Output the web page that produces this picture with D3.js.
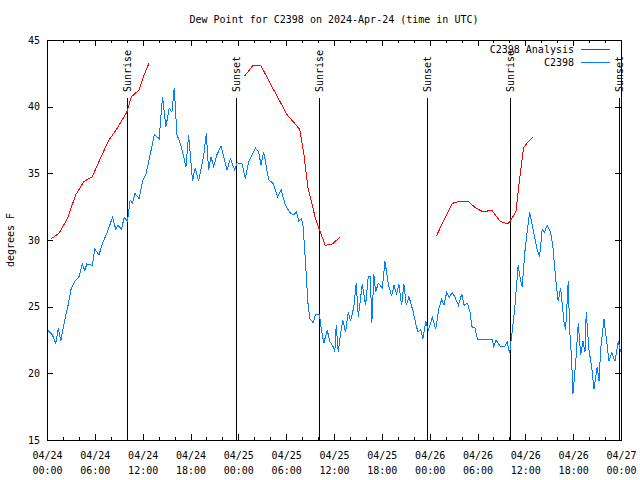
<!DOCTYPE html>
<html><head><meta charset="utf-8">
<script src="https://cdn.jsdelivr.net/npm/d3@7"></script>
<style>
body{margin:0;background:#fff}
text{font-family:"DejaVu Sans Mono",monospace;font-size:10px;fill:#000}
</style>
</head><body>
<svg id="c" width="640" height="480"></svg>
<script>
const titleText = "Dew Point for C2398 on 2024-Apr-24 (time in UTC)";
const yLabel = "degrees F";
const startTime = "2024-04-24T00:00:00Z";
const seriesNames = ["C2398 Analysis", "C2398"];
const seriesColors = ["#ff0000", "#0080ff"];

// observations: hours since start, dew point (F)
const obsHours = [0.13,0.67,1.09,1.42,1.72,2.22,2.64,3.05,3.48,4.02,4.44,4.74,4.99,5.69,5.99,6.53,6.95,7.58,8.21,8.63,8.92,9.34,9.68,10.09,10.43,10.72,11.02,11.56,11.98,12.40,12.94,13.45,14.07,14.49,14.92,15.33,15.67,15.96,16.30,16.80,17.43,17.76,18.26,18.47,18.60,19.01,19.64,19.98,20.27,20.57,20.90,21.32,21.83,22.15,22.58,23.00,23.54,23.84,24.47,24.88,25.30,26.14,26.55,26.85,27.18,27.81,28.36,28.65,28.94,29.37,29.91,30.54,30.95,31.29,31.58,31.92,32.13,32.42,32.71,32.96,33.39,33.68,34.18,34.39,34.72,35.15,35.47,35.90,36.10,36.28,36.53,36.82,37.11,37.45,37.79,38.08,38.49,38.79,39.05,39.55,39.96,40.30,40.55,40.75,41.00,41.22,41.56,42.06,42.39,42.81,43.23,43.52,43.86,44.14,44.48,44.77,45.07,45.40,45.90,46.24,46.53,46.87,47.16,47.50,47.84,48.34,48.76,49.17,49.51,49.80,50.14,50.43,50.85,51.18,51.61,52.02,52.31,52.74,53.06,53.28,53.69,53.99,55.04,55.83,56.04,56.33,56.89,57.43,57.72,58.02,58.35,58.69,59.10,59.40,59.60,59.94,60.23,60.53,60.86,61.20,61.49,61.79,62.11,62.42,62.74,63.17,63.46,63.80,64.12,64.43,64.84,65.05,65.38,65.56,65.81,65.97,66.31,66.64,66.94,67.23,67.48,67.64,67.98,68.32,68.61,69.02,69.24,69.45,69.87,70.16,70.50,70.84,71.25,71.66,71.96];
const obsDewF = [23.2,22.9,22.25,23.4,22.4,24.0,25.1,26.4,26.9,27.25,28.2,27.7,28.2,28.1,29.3,28.9,29.75,30.6,31.7,30.8,31.1,30.8,31.7,31.4,33.0,32.75,33.5,33.1,34.4,34.9,36.4,37.9,37.6,40.75,38.5,39.9,39.6,41.4,37.9,37.1,35.5,37.9,34.4,35.1,35.4,34.4,36.25,38.0,35.25,36.25,35.5,36.4,37.05,36.25,35.25,36.1,35.25,35.8,35.7,34.6,35.9,36.9,36.6,35.6,36.6,34.5,34.25,33.75,33.25,33.75,32.6,32.0,31.9,32.1,31.4,31.6,31.0,28.4,25.4,24.1,23.8,24.4,24.4,23.4,22.25,23.25,22.4,22.0,21.6,23.6,21.6,23.0,24.0,23.1,24.6,23.9,25.0,26.75,24.25,26.7,25.1,27.25,27.25,23.8,27.45,26.1,26.75,26.4,28.4,26.7,25.8,26.6,25.95,26.7,25.1,26.7,25.1,25.75,24.7,23.75,23.1,23.25,22.6,23.9,23.25,24.2,23.3,24.9,25.55,25.1,26.1,25.7,26.05,25.7,25.1,25.95,25.1,25.25,24.6,23.5,23.4,22.55,22.55,22.55,22.0,22.5,22.0,22.0,22.4,21.5,23.1,25.0,28.1,27.0,26.5,29.1,30.6,32.1,31.1,30.1,29.25,28.75,30.8,30.6,31.1,30.6,29.5,27.1,25.4,26.4,23.9,23.25,26.9,23.25,21.0,18.45,20.75,23.75,21.4,22.4,21.6,24.6,21.75,20.5,18.8,20.5,19.4,21.8,24.05,22.6,20.9,21.55,20.9,22.4,21.6];

// analysis: hours since start, dew point (F); null = gap
const anaHours = [0.54,1.51,2.55,3.61,4.65,5.69,6.53,7.67,8.83,10.02,10.59,11.56,12.19,12.78,null,24.79,25.85,26.85,28.44,30.12,31.70,32.21,32.71,33.68,34.22,34.90,35.78,36.73,null,48.84,49.80,50.85,51.68,52.82,53.78,54.75,55.79,56.84,57.84,58.81,59.22,59.77,60.19,60.90];
const anaDewF = [30.1,30.5,31.6,33.4,34.4,34.75,35.9,37.4,38.4,39.6,40.75,41.25,42.4,43.25,null,42.3,43.1,43.05,41.25,39.4,38.3,36.5,34.0,31.6,30.7,29.6,29.7,30.2,null,30.3,31.5,32.75,32.9,32.9,32.4,32.1,32.25,31.4,31.2,32.1,34.25,36.9,37.25,37.7];

const sunHours = [10.07, 23.67, 34.16, 47.67, 58.12, 71.79];
const sunLabels = ["Sunrise","Sunset","Sunrise","Sunset","Sunrise","Sunset"];

const yTicks = [15,20,25,30,35,40,45];
const xMajorHours = [0,6,12,18,24,30,36,42,48,54,60,66,72];
const xTickLabels = ["04/24\n00:00","04/24\n06:00","04/24\n12:00","04/24\n18:00","04/25\n00:00","04/25\n06:00","04/25\n12:00","04/25\n18:00","04/26\n00:00","04/26\n06:00","04/26\n12:00","04/26\n18:00","04/27\n00:00"];

const svg = d3.select("#c");
const t0 = new Date(startTime).getTime();
const hr = h => new Date(t0 + h * 3600e3);
const L = 47, R = 621, T = 40, B = 440;
const x = d3.scaleUtc().domain([hr(0), hr(72)]).range([L, R]);
const y = d3.scaleLinear().domain([15, 45]).range([B, T]);

const majorDates = xMajorHours.map(hr);
const minorDates = d3.range(0, 73, 2).filter(h => h % 6 !== 0).map(hr);
const labelByTime = new Map(majorDates.map((d, i) => [d.getTime(), xTickLabels[i]]));

function styleAxis(g) {
  g.select(".domain").remove();
  g.selectAll("line").attr("stroke", "#000").attr("shape-rendering", "crispEdges");
}

// bottom axis
const gb = svg.append("g").attr("transform", `translate(0,${B})`)
  .call(d3.axisBottom(x).tickValues(majorDates).tickSize(-6).tickPadding(0)
    .tickFormat(d => labelByTime.get(d.getTime())))
  .call(styleAxis);
gb.selectAll("text").each(function(d) {
  const parts = labelByTime.get(d.getTime()).split("\n");
  const t = d3.select(this).attr("y", 0).attr("dy", null).text(null)
    .attr("font-family", null).attr("font-size", null).attr("fill", null);
  parts.forEach((p, i) => t.append("tspan").attr("x", 0).attr("y", 19 + i * 15).text(p));
});
svg.append("g").attr("transform", `translate(0,${B})`)
  .call(d3.axisBottom(x).tickValues(minorDates).tickSize(-3).tickFormat(""))
  .call(styleAxis);
// top mirror
svg.append("g").attr("transform", `translate(0,${T})`)
  .call(d3.axisTop(x).tickValues(majorDates).tickSize(-6).tickFormat(""))
  .call(styleAxis);
svg.append("g").attr("transform", `translate(0,${T})`)
  .call(d3.axisTop(x).tickValues(minorDates).tickSize(-3).tickFormat(""))
  .call(styleAxis);
// left axis
const gl = svg.append("g").attr("transform", `translate(${L},0)`)
  .call(d3.axisLeft(y).tickValues(yTicks).tickSize(-6).tickPadding(7))
  .call(styleAxis);
gl.selectAll("text").attr("font-family", null).attr("font-size", null).attr("fill", null);
// right mirror
svg.append("g").attr("transform", `translate(${R},0)`)
  .call(d3.axisRight(y).tickValues(yTicks).tickSize(-6).tickFormat(""))
  .call(styleAxis);

// frame
svg.append("rect").attr("x", L).attr("y", T).attr("width", R - L).attr("height", B - T)
  .attr("fill", "none").attr("stroke", "#000").attr("shape-rendering", "crispEdges");

// sun lines
const sun = svg.append("g");
sunHours.forEach((h, i) => {
  const sx = Math.round(x(hr(h))) + 0.5;
  sun.append("line").attr("x1", sx).attr("x2", sx).attr("y1", 98).attr("y2", B)
    .attr("stroke", "#000").attr("shape-rendering", "crispEdges");
  sun.append("text").attr("transform", `translate(${sx + 3.5},92) rotate(-90)`)
    .attr("text-anchor", "start").text(sunLabels[i]);
});

// analysis line
const anaData = anaHours.map((h, i) => ({h, v: anaDewF[i]}));
const line = d3.line().defined(d => d.h !== null && d.v !== null)
  .x(d => x(hr(d.h))).y(d => y(d.v));
svg.append("path").datum(anaData).attr("d", line)
  .attr("fill", "none").attr("stroke", seriesColors[0]).attr("stroke-width", 1)
  .attr("shape-rendering", "crispEdges");

// observation line
const obsData = obsHours.map((h, i) => ({h, v: obsDewF[i]}));
svg.append("path").datum(obsData).attr("d", line)
  .attr("fill", "none").attr("stroke", seriesColors[1]).attr("stroke-width", 1)
  .attr("shape-rendering", "crispEdges");

// legend
seriesNames.forEach((n, i) => {
  const ly = 49.5 + i * 13;
  svg.append("text").attr("x", 574).attr("y", ly).attr("dy", "0.35em")
    .attr("text-anchor", "end").text(n);
  svg.append("line").attr("x1", 581).attr("x2", 610).attr("y1", ly).attr("y2", ly)
    .attr("stroke", seriesColors[i]).attr("shape-rendering", "crispEdges");
});

// title and y label
svg.append("text").attr("x", (L + R) / 2).attr("y", 23).attr("text-anchor", "middle").text(titleText);
svg.append("text").attr("transform", `translate(14,${(T + B) / 2}) rotate(-90)`)
  .attr("text-anchor", "middle").text(yLabel);
</script>
</body></html>
